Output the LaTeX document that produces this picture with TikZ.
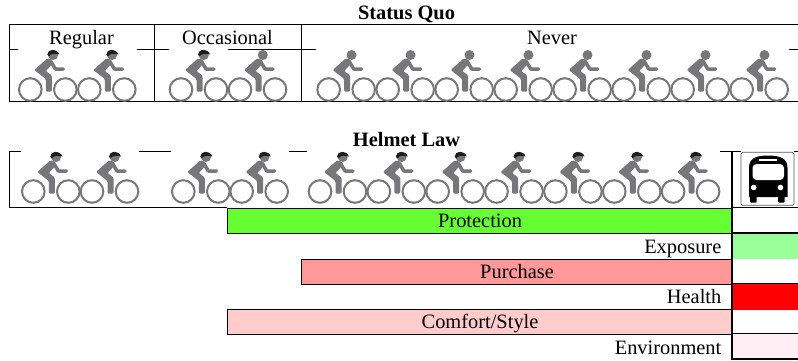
\documentclass[tikz,border=0pt]{standalone}
\usepackage{fontspec}
\setmainfont{Liberation Serif}
\usepackage{xcolor}
\definecolor{bikeGray}{HTML}{777779}
\definecolor{helmetDark}{HTML}{1E1E1E}
\definecolor{barProtection}{HTML}{66FF33}
\definecolor{barExposure}{HTML}{99FF99}
\definecolor{barPurchase}{HTML}{FF9999}
\definecolor{barHealth}{HTML}{FF0000}
\definecolor{barComfort}{HTML}{FFCCCC}
\definecolor{barEnvironment}{HTML}{FFEEF3}
\usepackage{tikz}
\usetikzlibrary{positioning}
\tikzset{
    frame/.style={
        line width=1.1pt,
        color=black
    },
    title/.style={
        anchor=base,
        font=\fontsize{20.4}{24}\selectfont\bfseries,
        inner sep=0pt
    },
    group/.style={
        anchor=base,
        font=\fontsize{20.4}{24}\selectfont,
        inner sep=0pt
    },
    bar/.style={
        draw=black,
        line width=1.1pt,
        rectangle,
        anchor=north west,
        text height=19.5pt,
        text depth=6pt,
        inner sep=0pt,
        font=\fontsize{20.4}{24}\selectfont
    },
    cell/.style={
        bar,
        draw=none,
        minimum width=66pt
    },
    rowlabel/.style={
        anchor=base east,
        inner sep=0pt,
        font=\fontsize{20.4}{24}\selectfont
    },
    wheel/.style={
        draw=bikeGray,
        line width=2pt
    },
    plain rider/.pic={
        \draw[wheel] (0,0) circle (11.3);
        \draw[wheel] (35,0) circle (11.3);
        \fill[bikeGray, rounded corners=1.2pt] (17.5,-31.5) -- (23.5,-27) -- (15.5,-18.5) -- (21.5,-14)
            -- (21.5,2) -- (15.5,2) -- (15.5,-10.5) -- (4,-19.5) -- cycle;
        \draw[bikeGray, line width=3.5pt, line cap=round, line join=round] (20,-29) -- (25,-20.5) -- (33,-20.5);
        \fill[bikeGray] (22.8,-34.5) circle (5);
    },
    helmet rider/.pic={
        \pic {plain rider};
        \fill[helmetDark] (17,-35) .. controls (17,-41) and (27,-41.5) .. (29,-35)
            .. controls (25,-36.5) and (20,-36) .. (18.5,-33) -- cycle;
    }
}

\begin{document}
\begin{tikzpicture}[x=1pt, y=-1pt]
    \useasboundingbox (0,0) rectangle (798,360);

    % Status Quo
    \node[title] (quotitle) at (406.5,19) {Status Quo};
    \draw[frame] (798,24.5) -- (9.5,24.5) -- (9.5,101.5) -- (798,101.5);
    \draw[frame] (154.5,24.5) -- (154.5,101.5);
    \draw[frame] (301.5,24.5) -- (301.5,101.5);
    \draw[frame] (9.5,49.5) -- (18,49.5);
    \draw[frame] (137,49.5) -- (169,49.5);
    \draw[frame] (228,49.5) -- (316,49.5);
    \draw[frame] (789,49.5) -- (798,49.5);
    \node[group] (regular) at (81.5,44) {Regular};
    \node[group] (occasional) at (227.5,44) {Occasional};
    \node[group] (never) at (552,44) {Never};

    \foreach \bx in {30.3,89.3,181}
        \pic at (\bx,89.5) {helmet rider};
    \pic at (240,89.5) {plain rider};
    \foreach \i in {0,...,7}
        \pic at ({328.7+59*\i},89.5) {plain rider};

    % Helmet Law
    \node[title] (lawtitle) at (406.5,146) {Helmet Law};
    \draw[frame] (21,151.5) -- (9.5,151.5) -- (9.5,207.5) -- (227,207.5);
    \draw[frame] (139,151.5) -- (171,151.5);
    \draw[frame] (289,151.5) -- (307,151.5);
    \draw[frame] (720,151.5) -- (741,151.5);
    \draw[frame] (794,151.5) -- (798,151.5);

    \foreach \bx in {33.3,92,183.3,241.7}
        \pic at (\bx,191.5) {helmet rider};
    \foreach \i in {0,...,6}
        \pic at ({320+58.85*\i},191.5) {helmet rider};

    % Bus
    \node[draw=black!65, fill=white, line width=0.7pt, rounded corners=1.5pt, minimum width=53pt, minimum height=53pt, inner sep=0pt] (busframe) at (767.5,178.8) {};
    \fill[black] (749,197) -- (749,168) .. controls (749,159) and (755,155.5) .. (768,155.5)
        .. controls (781,155.5) and (787.5,159) .. (787.5,168) -- (787.5,197) -- cycle;
    \fill[black, rounded corners=1pt] (750,194) rectangle (756.5,202.5);
    \fill[black, rounded corners=1pt] (778,194) rectangle (784.5,202.5);
    \fill[white, rounded corners=4pt] (752.5,180) -- (752.5,164) -- (784,164) -- (784,180) -- cycle;
    \fill[white] (758.5,158.5) rectangle (776.5,160.7);
    \fill[white] (753.7,187.5) circle (2.8);
    \fill[white] (780.5,187.5) circle (2.8);

    % Bars
    \node[bar, fill=barProtection, minimum width=505pt] (protection) at (227,207.5) {Protection};
    \node[bar, fill=barPurchase, minimum width=431pt] (purchase) at (301,258.5) {Purchase};
    \node[bar, fill=barComfort, minimum width=505pt] (comfort) at (227,308.5) {Comfort/Style};

    % Right column
    \node[cell, fill=barExposure] (exposurecell) at (732,233) {};
    \node[cell, fill=barHealth] (healthcell) at (732,283.5) {};
    \node[cell, fill=barEnvironment] (environmentcell) at (732,333.5) {};
    \draw[frame] (732,151.5) -- (732,359) -- (798,359);
    \draw[frame] (732,207.5) -- (798,207.5);
    \draw[frame] (732,233) -- (798,233);
    \draw[frame] (732,283.5) -- (798,283.5);
    \draw[frame] (732,333.5) -- (798,333.5);

    \node[rowlabel] (exposure) at (721.5,253) {Exposure};
    \node[rowlabel] (health) at (721.5,303) {Health};
    \node[rowlabel] (environment) at (721.5,354) {Environment};
\end{tikzpicture}
\end{document}
